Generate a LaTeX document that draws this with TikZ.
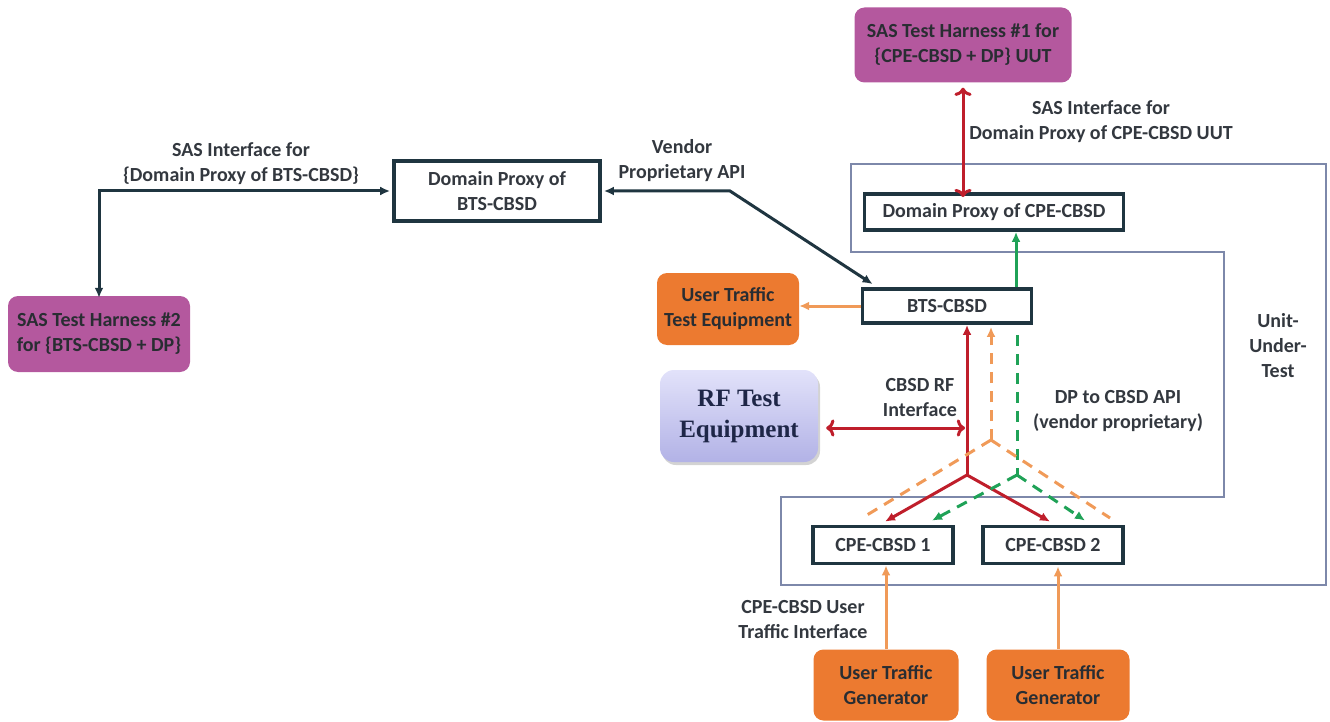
\documentclass[tikz,border=0pt]{standalone}
\usepackage{fontspec}
\setmainfont{Carlito}
\newfontfamily\rffont{Liberation Serif}
\usetikzlibrary{arrows.meta,shadows}
\definecolor{boxLine}{HTML}{1F3540}
\definecolor{labelGray}{HTML}{33383F}
\definecolor{harnessPurple}{HTML}{B4589E}
\definecolor{trafficOrange}{HTML}{EC7A30}
\definecolor{linkOrange}{HTML}{F09A58}
\definecolor{rfTop}{HTML}{E2E2FA}
\definecolor{rfBottom}{HTML}{B2B2E6}
\definecolor{rfText}{HTML}{1E2647}
\definecolor{linkRed}{HTML}{BF1E2B}
\definecolor{linkGreen}{HTML}{1FA257}
\definecolor{uutBlue}{HTML}{7D88AA}
\begin{document}
\begin{tikzpicture}[x=1pt,y=-1pt,
	plainBox/.style={shape=rectangle,draw=boxLine,line width=3.8pt,fill=white,inner sep=0pt,align=center,text=labelGray,font=\bfseries\fontsize{20}{25}\selectfont},
	harness/.style={shape=rectangle,rounded corners=10pt,fill=harnessPurple,inner sep=0pt,align=center,text=labelGray!80!black,font=\bfseries\fontsize{20}{25}\selectfont},
	traffic/.style={shape=rectangle,rounded corners=10pt,fill=trafficOrange,inner sep=0pt,align=center,text=labelGray!80!black,font=\bfseries\fontsize{20}{25}\selectfont},
	rfBox/.style={shape=rectangle,rounded corners=14pt,top color=rfTop,bottom color=rfBottom,drop shadow={opacity=0.35,shadow xshift=2pt,shadow yshift=-3pt},inner sep=0pt,align=center,text=rfText,font=\rffont\bfseries\fontsize{25}{31}\selectfont},
	linkLabel/.style={align=center,text=labelGray,font=\bfseries\fontsize{20}{25}\selectfont},
	darkArrow/.style={draw=boxLine,line width=3pt,{Latex[length=10pt,width=9pt]}-{Latex[length=10pt,width=9pt]}},
	redArrow/.style={draw=linkRed,line width=3pt,arrows={-Latex[length=10pt,width=9pt]}},
	greenArrow/.style={draw=linkGreen,line width=3pt,arrows={-Latex[length=10pt,width=9pt]}},
	greenDash/.style={draw=linkGreen,line width=3pt,dash pattern=on 11pt off 8pt,arrows={-Latex[length=10pt,width=9pt]}},
	orangeArrow/.style={draw=linkOrange,line width=3pt,arrows={-Latex[length=10pt,width=9pt]}},
	orangeDash/.style={draw=linkOrange,line width=3pt,dash pattern=on 11pt off 8pt},
	uutLine/.style={draw=uutBlue,line width=1.5pt}]
	\useasboundingbox (0,0) rectangle (1330,722);

	\draw[uutLine] (851,164) -- (1326,164) -- (1326,585) -- (781,585) -- (781,497) -- (1224,497) -- (1224,252) -- (851,252) -- cycle;

	\node (harnessOne) at (963,45)[harness,minimum width=217pt,minimum height=75pt] {SAS Test Harness \#1 for\\\{CPE-CBSD + DP\} UUT};
	\node (harnessTwo) at (99,334)[harness,minimum width=182pt,minimum height=76pt] {SAS Test Harness \#2\\for \{BTS-CBSD + DP\}};
	\node (dpBts) at (497,191)[plainBox,minimum width=206pt,minimum height=60pt] {Domain Proxy of\\BTS-CBSD};
	\node (dpCpe) at (994,212)[plainBox,minimum width=259pt,minimum height=36pt] {Domain Proxy of CPE-CBSD};
	\node (btsCbsd) at (947,306)[plainBox,minimum width=169pt,minimum height=34pt] {BTS-CBSD};
	\node (utte) at (728,309)[traffic,minimum width=142pt,minimum height=72pt] {User Traffic\\Test Equipment};
	\node (rfTest) at (739,416)[rfBox,minimum width=158pt,minimum height=92pt] {RF Test\\Equipment};
	\node (cpeOne) at (883,545)[plainBox,minimum width=140pt,minimum height=37pt] {CPE-CBSD 1};
	\node (cpeTwo) at (1053,545)[plainBox,minimum width=140pt,minimum height=37pt] {CPE-CBSD 2};
	\node (utgOne) at (886,685)[traffic,minimum width=145pt,minimum height=71pt] {User Traffic\\Generator};
	\node (utgTwo) at (1058,685)[traffic,minimum width=143pt,minimum height=71pt] {User Traffic\\Generator};

	\node (lblSasCpe) at (1101,122)[linkLabel] {SAS Interface for\\Domain Proxy of CPE-CBSD UUT};
	\node (lblSasBts) at (241,164)[linkLabel] {SAS Interface for\\\{Domain Proxy of BTS-CBSD\}};
	\node (lblVendor) at (682,161)[linkLabel] {Vendor\\Proprietary API};
	\node (lblRf) at (920,398)[linkLabel] {CBSD RF\\Interface};
	\node (lblDpApi) at (1118,411)[linkLabel] {DP to CBSD API\\(vendor proprietary)};
	\node (lblUut) at (1278,346)[linkLabel] {Unit-\\Under-\\Test};
	\node (lblCpeTraffic) at (803,620)[linkLabel] {CPE-CBSD User\\Traffic Interface};

	\coordinate (apiBend) at (730,191);
	\coordinate (rfJoin) at (967,428);
	\coordinate (redFork) at (967,475);
	\coordinate (greenFork) at (1017,475);
	\coordinate (orangeFork) at (991,440);

	\draw[redArrow,<->] ([yshift=-5pt]harnessOne.south) -- ([yshift=-5pt]harnessOne.south |- dpCpe.north);
	\draw[darkArrow] ([yshift=-2pt]harnessTwo.north) |- ([xshift=-2pt]dpBts.west);
	\draw[darkArrow] ([xshift=2pt]dpBts.east) -- (apiBend) -- ([xshift=12pt,yshift=3pt]btsCbsd.north west);
	\draw[orangeArrow] (btsCbsd.west) -- (utte.east |- btsCbsd.west);
	\draw[greenArrow] ([xshift=69pt]btsCbsd.north) -- ([xshift=69pt]btsCbsd.north |- dpCpe.south);
	\draw[redArrow,<->] ([xshift=8pt]rfTest.east |- rfJoin) -- ([xshift=-2pt]rfJoin);

	\draw[redArrow] (redFork) -- (redFork |- btsCbsd.south);
	\draw[redArrow] (redFork) -- ([xshift=2pt,yshift=3pt]cpeOne.north);
	\draw[redArrow] (redFork) -- ([xshift=-3pt,yshift=3pt]cpeTwo.north);

	\draw[greenDash,-] ([yshift=-10pt]greenFork |- btsCbsd.south) -- (greenFork);
	\draw[greenDash] (greenFork) -- ([xshift=49pt,yshift=4pt]cpeOne.north);
	\draw[greenDash] (greenFork) -- ([xshift=32pt,yshift=4pt]cpeTwo.north);

	\draw[orangeDash,arrows={-Latex[length=10pt,width=9pt]}] (orangeFork) -- ([yshift=-2pt]orangeFork |- btsCbsd.south);
	\draw[orangeDash] (orangeFork) -- (862,518);
	\draw[orangeDash] (orangeFork) -- (1110,518);

	\draw[orangeArrow] (utgOne.north) -- (utgOne.north |- cpeOne.south);
	\draw[orangeArrow] (utgTwo.north) -- ([yshift=-1pt]utgTwo.north |- cpeTwo.south);
\end{tikzpicture}
\end{document}
